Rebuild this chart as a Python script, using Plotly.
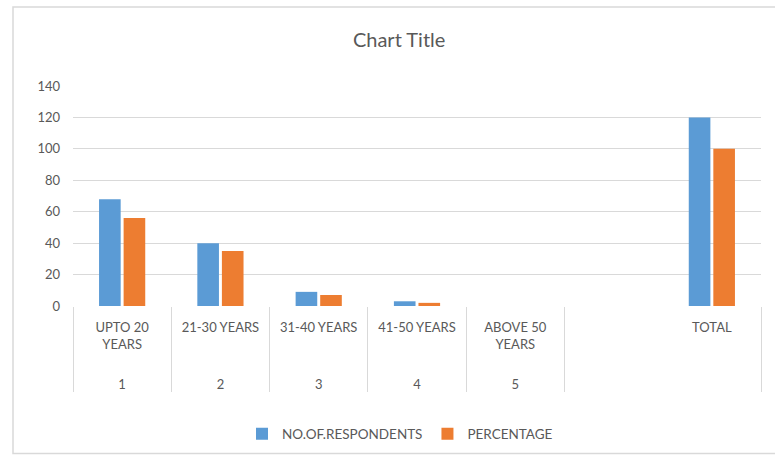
import plotly.graph_objects as go

# Data
age_groups = ["UPTO 20<br>YEARS<br> <br> ", "21-30 YEARS<br> <br> <br> ", "31-40 YEARS<br> <br> <br> ",
              "41-50 YEARS<br> <br> <br> ", "ABOVE 50<br>YEARS<br> <br> ", " <br> <br> <br> ", "TOTAL<br> <br> <br> "]
serial_nos = ["1", "2", "3", "4", "5", " ", " "]
respondents = [68, 40, 9, 3, 0, None, 120]
percentage = [56, 35, 7, 2, 0, None, 100]
series_names = ["NO.OF.RESPONDENTS", "PERCENTAGE"]
y_ticks = [0, 20, 40, 60, 80, 100, 120, 140]

W, H = 775, 457
ml, mr, mt, mb = 73, 14, 86, 151

fig = go.Figure()
fig.add_trace(go.Bar(x=[serial_nos, age_groups], y=respondents, name=series_names[0],
                     marker=dict(color="#5B9BD5", line=dict(width=0))))
fig.add_trace(go.Bar(x=[serial_nos, age_groups], y=percentage, name=series_names[1],
                     marker=dict(color="#ED7D31", line=dict(width=0))))

font_family = "Lato, 'Open Sans', sans-serif"
fig.update_layout(
    width=W, height=H,
    margin=dict(l=ml, r=mr, t=mt, b=mb),
    paper_bgcolor="white", plot_bgcolor="white",
    barmode="group", bargap=0.5, bargroupgap=0.12,
    title=dict(text="Chart Title", x=0.515, xanchor="center", y=1 - 40 / H, yanchor="middle",
               font=dict(family=font_family, size=20, color="#595959")),
    font=dict(family=font_family, size=13, color="#595959"),
    showlegend=True,
    legend=dict(orientation="h", x=(400 - ml) / (W - ml - mr), xanchor="center",
                yref="container", y=1 - 434 / H, yanchor="middle",
                font=dict(family=font_family, size=13.5, color="#595959"),
                itemwidth=30, traceorder="normal"),
    xaxis=dict(type="multicategory", showgrid=False, ticks="", showline=False,
               showdividers=True, dividercolor="#D9D9D9", dividerwidth=1,
               ticklabelstandoff=12,
               tickfont=dict(family=font_family, size=13, color="#595959")),
    yaxis=dict(range=[0, 140], tickvals=y_ticks, showgrid=True, gridcolor="#D9D9D9",
               gridwidth=1, zeroline=False, showline=False, ticks="",
               tickfont=dict(family=font_family, size=13, color="#595959"),
               ticklabelstandoff=12),
)

# outer chart border
fig.add_shape(type="rect", xref="paper", yref="paper",
              x0=(13 - ml) / (W - ml - mr), x1=1.05,
              y0=-0.67, y1=1 + (mt - 7) / (H - mt - mb),
              line=dict(color="#D9D9D9", width=1.5), layer="below")

fig.write_html("out.html")
